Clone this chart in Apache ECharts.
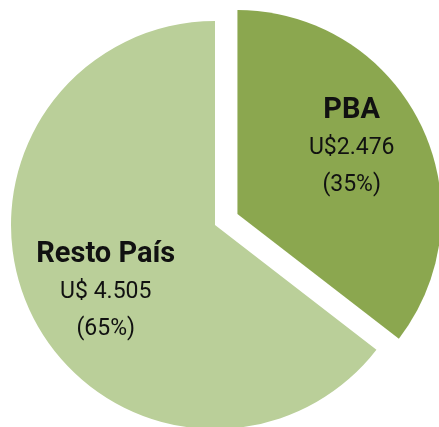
<!DOCTYPE html>
<html>
<head>
<meta charset="utf-8">
<script src="https://cdn.jsdelivr.net/npm/echarts@6/dist/echarts.min.js"></script>
<style>
  html, body { margin: 0; padding: 0; background: #fff; }
  #chart { width: 439px; height: 427px; }
</style>
</head>
<body>
<div id="chart"></div>
<script>
// datos
const regions = ['PBA', 'Resto País'];
const amounts = [2476, 4505];
const amountLabels = ['U$2.476', 'U$ 4.505'];
const colors = ['#8ba74f', '#bacf99'];
// desplazamiento del texto dentro de cada porción
const labelOffsets = [[20, -20], [-15, 20]];

const chart = echarts.init(document.getElementById('chart'));

const seriesData = regions.map((name, i) => ({
    name: name,
    value: amounts[i],
    selected: i === 0,
    itemStyle: { color: colors[i] },
    label: { offset: labelOffsets[i] },
    select: {
        itemStyle: { color: colors[i] },
        label: { offset: labelOffsets[i] }
    },
    valueText: amountLabels[i]
}));

chart.setOption({
    animation: false,
    series: [{
        type: 'pie',
        center: [215, 225],
        radius: [0, 204],
        startAngle: 90,
        clockwise: true,
        selectedMode: 'single',
        selectedOffset: 25,
        percentPrecision: 0,
        silent: true,
        emphasis: { scale: false },
        data: seriesData,
        labelLine: { show: false },
        label: {
            show: true,
            position: 'inside',
            fontFamily: 'Roboto',
            color: '#111',
            formatter: function (p) {
                return '{n|' + p.name + '}\n{v|' + p.data.valueText + '}\n{v|(' + Math.round(p.percent) + '%)}';
            },
            rich: {
                n: { fontSize: 29, fontWeight: 'bold', lineHeight: 38, fontFamily: 'Roboto', color: '#111' },
                v: { fontSize: 23, lineHeight: 37, fontFamily: 'Roboto', color: '#111' }
            }
        }
    }]
});
</script>
</body>
</html>
